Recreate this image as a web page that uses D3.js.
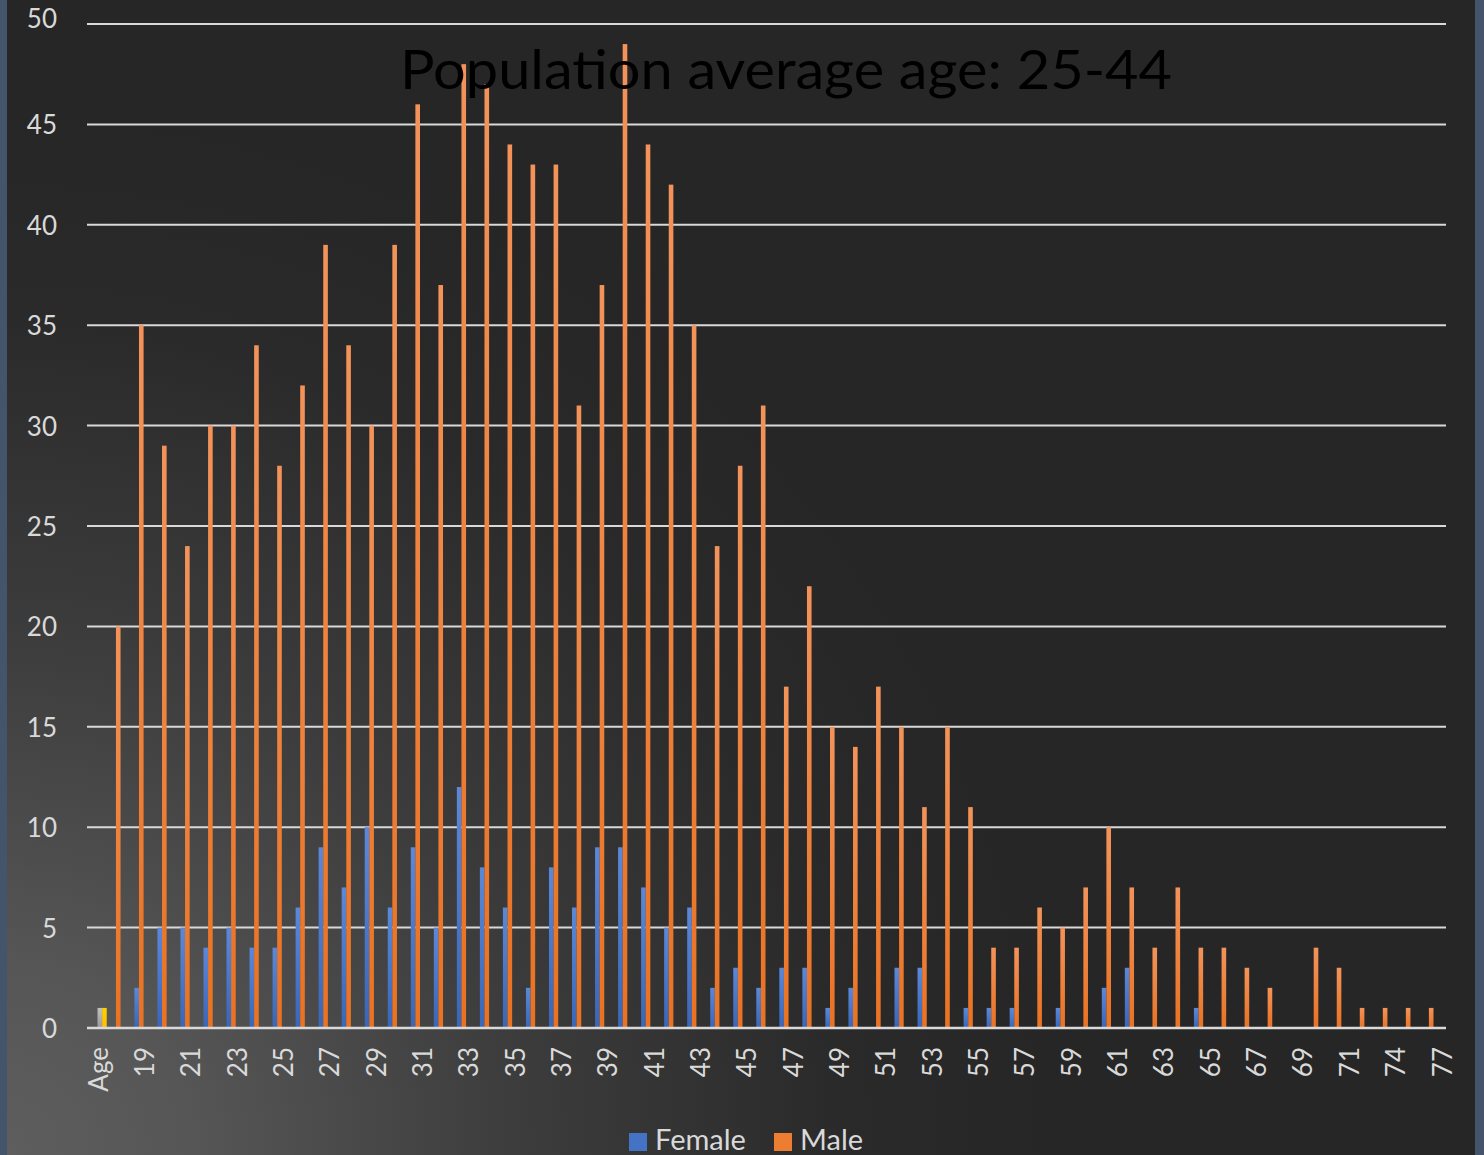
<!DOCTYPE html>
<html>
<head>
<meta charset="utf-8">
<script src="https://cdn.jsdelivr.net/npm/d3@7"></script>
<style>
  html, body { margin: 0; padding: 0; background: #262626; }
  svg { display: block; }
  text { font-family: Lato, "Open Sans", sans-serif; }
</style>
</head>
<body>
<svg id="chart" width="1484" height="1155"></svg>
<script>
// ---------- data ----------
const categories = ["Age","18","19","20","21","22","23","24","25","26","27","28","29","30","31","32","33","34","35","36","37","38","39","40","41","42","43","44","45","46","47","48","49","50","51","52","53","54","55","56","57","58","59","60","61","62","63","64","65","66","67","68","69","70","71","72","74","75","77"];
const female = [0,0,2,5,5,4,5,4,4,6, 9,7,10,6,9,5,12,8,6,2, 8,6,9,9,7,5,6,2,3,2, 3,3,1,2,0,3,3,0,1,1, 1,0,1,0,2,3,0,0,1,0, 0,0,0,0,0,0,0,0,0];
const male   = [0,20,35,29,24,30,30,34,28,32, 39,34,30,39,46,37,48,47,44,43, 43,31,37,49,44,42,35,24,28,31, 17,22,15,14,17,15,11,15,11,4, 4,6,5,7,10,7,4,7,4,4, 3,2,0,4,3,1,1,1,1];
const series3 = [1].concat(new Array(58).fill(0));
const series4 = [1].concat(new Array(58).fill(0));
const seriesNames = ["Female","Male","Series3","Series4"];
const legendNames = ["Female","Male"];
const yTicks = [0,5,10,15,20,25,30,35,40,45,50];
const title = "Population average age: 25-44";

// ---------- setup ----------
const svg = d3.select("#chart");
const W = 1484, H = 1155;
const plot = {left: 87, right: 1446, top: 24, bottom: 1028};

const defs = svg.append("defs");
const bg = defs.append("radialGradient").attr("id","bg")
  .attr("gradientUnits","userSpaceOnUse").attr("cx",0).attr("cy",H).attr("r",1050);
[[0,"#5e5e5e"],[0.18,"#565656"],[0.5,"#3c3c3c"],[0.8,"#2a2a2a"],[1,"#262626"]]
  .forEach(([o,c]) => bg.append("stop").attr("offset",o).attr("stop-color",c));

function barGrad(id, top, bottom) {
  const g = defs.append("linearGradient").attr("id", id).attr("x1",0).attr("y1",0).attr("x2",0).attr("y2",1);
  g.append("stop").attr("offset",0).attr("stop-color",top);
  g.append("stop").attr("offset",1).attr("stop-color",bottom);
}
barGrad("gF", "#5b88d8", "#3a66b8");
barGrad("gM", "#f3935a", "#ea7222");
barGrad("gG", "#c0c0c0", "#9a9a9a");
barGrad("gY", "#ffd000", "#ffbf00");
const fills = {Female:"url(#gF)", Male:"url(#gM)", Series3:"url(#gG)", Series4:"url(#gY)"};
const legendColors = {Female:"#4472c4", Male:"#ed7d31"};

svg.append("rect").attr("width",W).attr("height",H).attr("fill","url(#bg)");
svg.append("rect").attr("x",0).attr("y",0).attr("width",7).attr("height",H).attr("fill","#44546a");
svg.append("rect").attr("x",1475).attr("y",0).attr("width",W-1475).attr("height",H).attr("fill","#44546a");

// ---------- scales ----------
const y = d3.scaleLinear().domain([0,50]).range([plot.bottom, plot.top]);
const x0 = d3.scaleBand().domain(categories).range([plot.left - 1, plot.right - 1])
  .paddingInner(0.2).paddingOuter(0.1);
const x1 = d3.scaleBand().domain(seriesNames).range([0, x0.bandwidth()]);
// label positions (reference labels are spaced very slightly wider than bars)
const xl = d3.scalePoint().domain(categories).range([plot.left + 10.5, plot.right - 4.5]);

// ---------- gridlines ----------
svg.append("g").selectAll("line").data(yTicks.filter(t => t > 0)).join("line")
  .attr("x1", plot.left).attr("x2", plot.right)
  .attr("y1", d => y(d)).attr("y2", d => y(d))
  .attr("stroke", "#d9d9d9").attr("stroke-width", 2);

// y labels
svg.append("g").selectAll("text").data(yTicks).join("text")
  .attr("x", 57).attr("y", d => Math.max(y(d), 18) - (d === 50 ? 6 : 0))
  .attr("text-anchor","end").attr("dominant-baseline","central")
  .attr("font-size", 26).attr("fill", "#d9d9d9")
  .text(d => d);

// ---------- bars ----------
const rows = categories.map((c,i) => ({cat:c, vals:[female[i], male[i], series3[i], series4[i]]}));
const groups = svg.append("g").selectAll("g").data(rows).join("g")
  .attr("transform", d => `translate(${x0(d.cat)},0)`);
groups.selectAll("rect").data(d => d.vals.map((v,k) => ({name: seriesNames[k], v})))
  .join("rect")
  .attr("x", d => x1(d.name))
  .attr("width", x1.bandwidth())
  .attr("y", d => y(d.v))
  .attr("height", d => y(0) - y(d.v))
  .attr("fill", d => fills[d.name]);

// axis line
svg.append("line").attr("x1", plot.left).attr("x2", plot.right)
  .attr("y1", y(0)).attr("y2", y(0)).attr("stroke", "#d9d9d9").attr("stroke-width", 2.5);

// x labels (every other)
svg.append("g").selectAll("text").data(categories.filter((c,i) => i % 2 === 0)).join("text")
  .attr("transform", d => `translate(${xl(d)},1047) rotate(-90)`)
  .attr("text-anchor","end").attr("dominant-baseline","central")
  .attr("font-size", 26).attr("fill", "#d9d9d9")
  .text(d => d);

// ---------- title ----------
svg.append("text").attr("x", 786).attr("y", 89).attr("text-anchor","middle")
  .attr("font-size", 55).attr("fill", "#000")
  .attr("textLength", 772).attr("lengthAdjust","spacingAndGlyphs")
  .text(title);

// ---------- legend ----------
const leg = svg.append("g");
const legX = [629, 774];
legendNames.forEach((n,i) => {
  leg.append("rect").attr("x", legX[i]).attr("y", 1133).attr("width", 18).attr("height", 18)
    .attr("fill", legendColors[n]);
  leg.append("text").attr("x", legX[i] + 26).attr("y", 1150)
    .attr("font-size", 29).attr("fill", "#d9d9d9").text(n);
});
</script>
</body>
</html>
